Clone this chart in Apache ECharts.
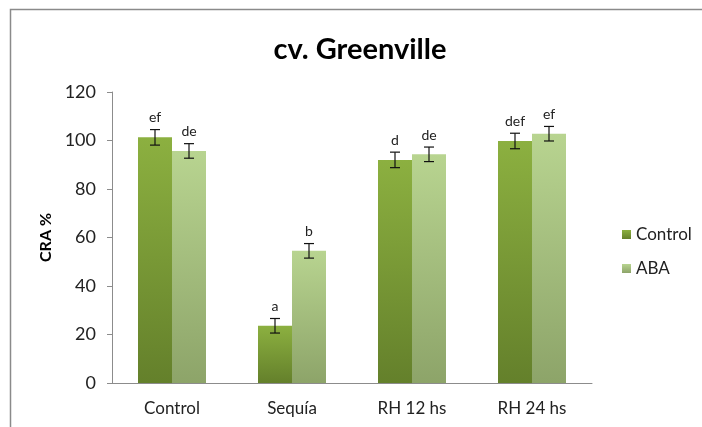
<!DOCTYPE html>
<html>
<head>
<meta charset="utf-8">
<script src="https://cdn.jsdelivr.net/npm/echarts@6/dist/echarts.min.js"></script>
<style>html,body{margin:0;padding:0;background:#fff;}#c{width:702px;height:427px;}</style>
</head>
<body>
<div id="c"></div>
<script>
var categories = ['Control', 'Sequía', 'RH 12 hs', 'RH 24 hs'];
var controlValues = [101.3, 23.6, 92.0, 99.8];
var abaValues = [95.7, 54.5, 94.3, 102.8];
var controlErr = [3.2, 3.0, 3.2, 3.2];
var abaErr = [3.0, 3.0, 3.0, 3.0];
var controlLetters = ['ef', 'a', 'd', 'def'];
var abaLetters = ['de', 'b', 'de', 'ef'];
var yTicks = [0, 20, 40, 60, 80, 100, 120];

var FONT = 'Lato';
var BAR_W = 34;

function errData(vals, errs, letters) {
  return vals.map(function (v, i) { return [i, v, errs[i], letters[i]]; });
}
function errRender(offset) {
  return function (params, api) {
    var x = api.value(0), v = api.value(1), e = api.value(2);
    var top = api.coord([x, v + e]);
    var bot = api.coord([x, v - e]);
    var cx = top[0] + offset;
    var hw = 5;
    var st = { stroke: '#111', lineWidth: 1.2 };
    return {
      type: 'group',
      children: [
        { type: 'line', shape: { x1: cx, y1: top[1], x2: cx, y2: bot[1] }, style: st },
        { type: 'line', shape: { x1: cx - hw, y1: top[1], x2: cx + hw, y2: top[1] }, style: st },
        { type: 'line', shape: { x1: cx - hw, y1: bot[1], x2: cx + hw, y2: bot[1] }, style: st },
        { type: 'text', style: { x: cx, y: top[1] - 5, text: api.value(3), align: 'center', verticalAlign: 'bottom', fontFamily: FONT, fontSize: 14, fill: '#222' } }
      ]
    };
  };
}

var chart = echarts.init(document.getElementById('c'), null, { renderer: 'canvas' });
chart.setOption({
  animation: false,
  backgroundColor: '#fff',
  title: {
    text: 'cv. Greenville', left: 355, top: 30, textAlign: 'center',
    textStyle: { fontFamily: FONT, fontSize: 29, fontWeight: 'bold', color: '#000' }
  },
  graphic: [
    { type: 'rect', shape: { x: 10.5, y: 9.5, width: 800, height: 600 }, style: { fill: 'none', stroke: '#8a8a8a', lineWidth: 1.5 }, z: -1 }
  ],
  legend: {
    orient: 'vertical', left: 617, top: 221, itemWidth: 9, itemHeight: 9, itemGap: 17,
    icon: 'rect',
    textStyle: { fontFamily: FONT, fontSize: 17, color: '#222' },
    data: ['Control', 'ABA']
  },
  grid: { left: 112, right: 110, top: 92, bottom: 44 },
  xAxis: {
    type: 'category', data: categories,
    axisLine: { lineStyle: { color: '#8c8c8c', width: 1 } },
    axisTick: { show: false },
    axisLabel: { fontFamily: FONT, fontSize: 17, color: '#222', margin: 17 }
  },
  yAxis: {
    type: 'value', min: 0, max: 120, interval: 20,
    name: 'CRA %', nameLocation: 'middle', nameGap: 57, nameRotate: 90,
    nameTextStyle: { fontFamily: FONT, fontSize: 16, fontWeight: 'bold', color: '#000' },
    axisLine: { show: true, lineStyle: { color: '#8c8c8c', width: 1 } },
    axisTick: { show: true, length: 5, lineStyle: { color: '#8c8c8c' } },
    splitLine: { show: false },
    axisLabel: { fontFamily: FONT, fontSize: 18, color: '#222', margin: 16,
      formatter: function (v) { return yTicks.indexOf(v) >= 0 ? String(v) : ''; } }
  },
  series: [
    {
      name: 'Control', type: 'bar', data: controlValues, barWidth: BAR_W, barGap: '0%',
      itemStyle: { color: new echarts.graphic.LinearGradient(0, 0, 0, 1, [{ offset: 0, color: '#8cb040' }, { offset: 1, color: '#64802b' }]) }
    },
    {
      name: 'ABA', type: 'bar', data: abaValues, barWidth: BAR_W,
      itemStyle: { color: new echarts.graphic.LinearGradient(0, 0, 0, 1, [{ offset: 0, color: '#b8d490' }, { offset: 1, color: '#8da469' }]) }
    },
    { type: 'custom', data: errData(controlValues, controlErr, controlLetters), renderItem: errRender(-BAR_W / 2), z: 10, encode: { x: 0, y: 1 } },
    { type: 'custom', data: errData(abaValues, abaErr, abaLetters), renderItem: errRender(BAR_W / 2), z: 10, encode: { x: 0, y: 1 } }
  ]
});
</script>
</body>
</html>
